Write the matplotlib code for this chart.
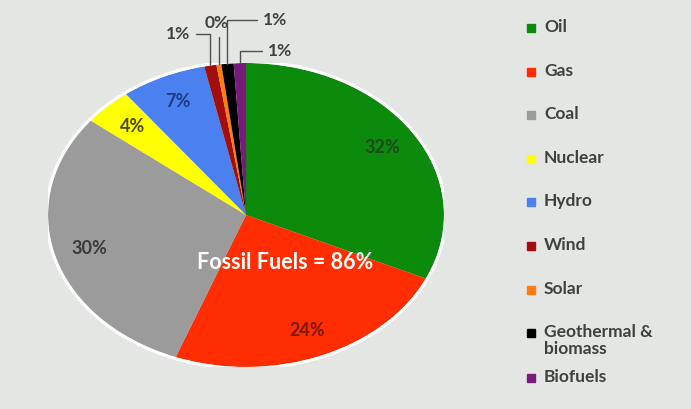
import matplotlib.pyplot as plt
import numpy as np
from matplotlib.patches import Ellipse, Rectangle

sources = ["Oil", "Gas", "Coal", "Nuclear", "Hydro", "Wind", "Solar",
           "Geothermal &\nbiomass", "Biofuels"]
shares = [32, 24, 30, 4, 7, 1, 0.4, 1, 1]
colors = ["#0b8a0b", "#ff2d00", "#9b9b9b", "#ffff00", "#4a80f0",
          "#a30d0d", "#ff7c10", "#000000", "#7a1a7a"]
pct_colors = ["#1d4a1d", "#7a1800", "#3a3a3a", "#4a4a10", "#1e3d80"]
# (x, y, alignment) of the outside labels for the thin slices
small_label_pos = {5: (-0.28, 1.19, "right"), 6: (-0.146, 1.26, "center"),
                   7: (0.085, 1.28, "left"), 8: (0.11, 1.08, "left")}

BG = "#e3e6e3"
FONT = "Lato"

fig = plt.figure(figsize=(6.91, 4.09), dpi=100, facecolor=BG)

# pie is stretched horizontally in the original, so use a non-square axes
cx, cy, rx, ry = 246, 215, 198, 152
W, H = 691, 409
ax = fig.add_axes([(cx - rx) / W, (H - cy - ry) / H, 2 * rx / W, 2 * ry / H])
ax.set_facecolor(BG)

wedges, _ = ax.pie(shares, colors=colors, startangle=90, counterclock=False,
                   wedgeprops=dict(linewidth=0))
ax.set_aspect("auto")
ax.set_xlim(-1, 1)
ax.set_ylim(-1, 1)
ax.axis("off")

# white rim round the pie
ax.add_patch(Ellipse((0, 0), 2.015, 2.02, fill=False, edgecolor="white", lw=2.2))

for i, (w, v) in enumerate(zip(wedges, shares)):
    mid = np.deg2rad((w.theta1 + w.theta2) / 2)
    label = f"{v:.0f}%"
    if i < len(pct_colors):
        r = 0.82
        ax.text(r * np.cos(mid), r * np.sin(mid), label, ha="center", va="center",
                fontsize=13, fontweight="bold", color=pct_colors[i], family=FONT)
    else:
        tx, ty, align = small_label_pos[i]
        ax.annotate(label, xy=(np.cos(mid), np.sin(mid)), xytext=(tx, ty),
                    ha=align, va="center", fontsize=12.5, fontweight="bold",
                    color="#404040", family=FONT, annotation_clip=False,
                    arrowprops=dict(arrowstyle="-", color="#505050", lw=1,
                                    shrinkA=2, shrinkB=0,
                                    connectionstyle="angle,angleA=0,angleB=90,rad=0"))

ax.text(0.2, -0.31, "Fossil Fuels = 86%", ha="center", va="center",
        fontsize=15.5, fontweight="bold", color="white", family=FONT)

# legend drawn by hand to match the spacing of the original
for i, (name, c) in enumerate(zip(sources, colors)):
    y = 28 + 43.6 * i
    if i == 8:
        y = 378
    fig.patches.append(Rectangle((527 / W, 1 - (y + 4) / H), 8 / W, 8 / H,
                                 transform=fig.transFigure, color=c))
    fig.text(544 / W, 1 - (y - 9) / H, name, ha="left", va="top",
             fontsize=12.5, fontweight="bold", color="#404040", family=FONT,
             linespacing=1.05)

fig.savefig("out.png", dpi=100, facecolor=BG)
